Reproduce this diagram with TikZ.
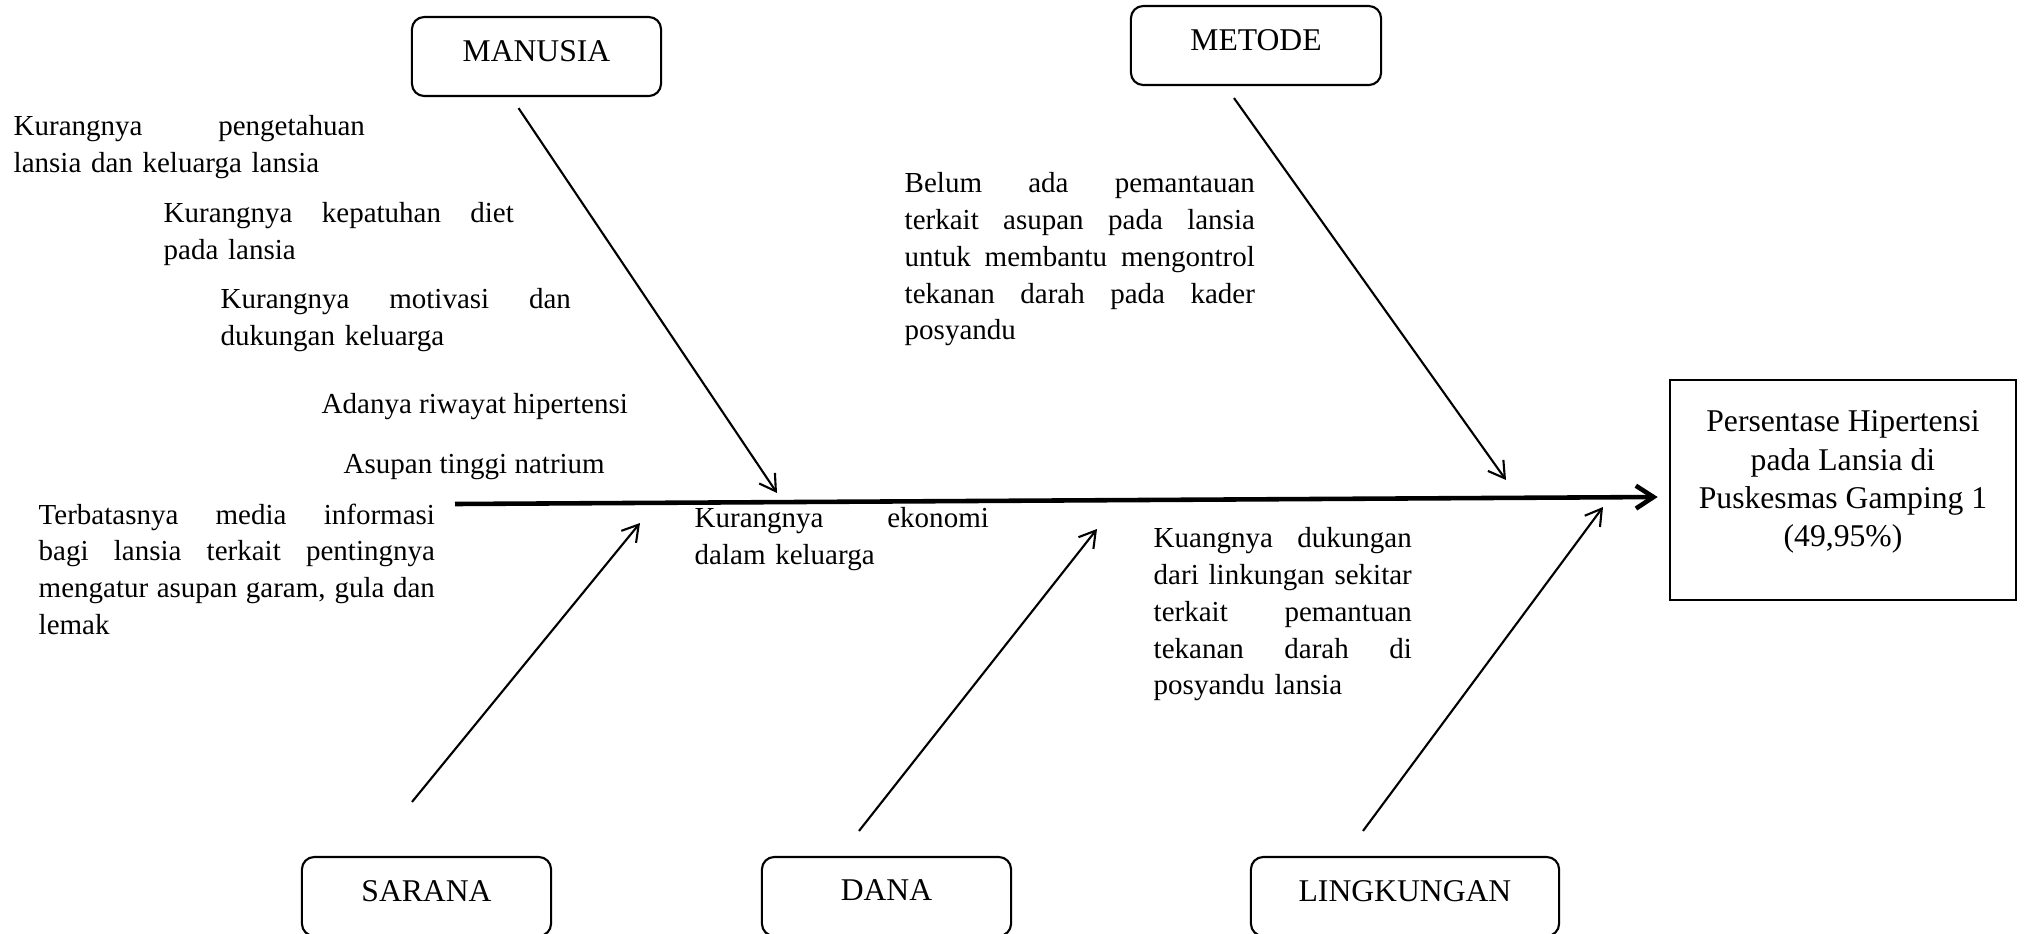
\documentclass[tikz,border=0pt]{standalone}
\usepackage{fontspec}
\setmainfont{Liberation Serif}
\usetikzlibrary{arrows.meta, calc}
\newlength{\causewd}
\newcommand{\jline}[1]{\makebox[\causewd][s]{\spaceskip=.25em plus 1fil\relax #1}}

\begin{document}
\begin{tikzpicture}[
    x=0.01cm, y=-0.01cm,
    every node/.style={font=\fontsize{8.25}{10.45}\selectfont},
    cat/.style={draw, line width=0.6pt, rounded corners=3.5pt,
                minimum width=2.49cm, minimum height=0.79cm,
                text depth=3.4pt, font=\fontsize{9}{11}\selectfont},
    cause/.style={anchor=north west, inner sep=0pt, align=left,
                  text width=#1, execute at begin node={\setlength{\causewd}{#1}}},
    bone/.style={line width=0.6pt, -{Straight Barb[length=4.5pt,width=5.4pt]}},
  ]
  \useasboundingbox (0,0) rectangle (2024,933);

  % categories
  \node[cat] (manusia) at (536.5,56.5) {MANUSIA};
  \node[cat, minimum width=2.5cm] (metode) at (1256,45.5) {METODE};
  \node[cat] (sarana) at (426.5,896.5) {SARANA};
  \node[cat] (dana) at (886.5,896.5) {DANA};
  \node[cat, minimum width=3.08cm] (lingkungan) at (1405,896.5) {LINGKUNGAN};

  % effect
  \node[draw, line width=0.7pt, minimum width=3.46cm, minimum height=2.2cm,
        align=center, font=\fontsize{9}{10.9}\selectfont] (hasil) at (1843,490)
    {Persentase Hipertensi\\ pada Lansia di\\ Puskesmas Gamping 1\\
     (49,95\%)\rule[-6.4pt]{0pt}{0pt}};

  % causes
  \node[cause=3.51cm] (pengetahuan) at (13,115)
    {\jline{Kurangnya pengetahuan}\\ lansia dan keluarga lansia};
  \node[cause=3.5cm] (diet) at (163,202)
    {\jline{Kurangnya kepatuhan diet}\\ pada lansia};
  \node[cause=3.5cm] (motivasi) at (220,288)
    {\jline{Kurangnya motivasi dan}\\ dukungan keluarga};
  \node[anchor=west, inner sep=0pt] (riwayat) at (321,407) {Adanya riwayat hipertensi};
  \node[anchor=west, inner sep=0pt] (natrium) at (343,467) {Asupan tinggi natrium};
  \node[cause=3.96cm] (media) at (38,503)
    {\jline{Terbatasnya media informasi}\\
     \jline{bagi lansia terkait pentingnya}\\
     \jline{mengatur asupan garam, gula dan}\\ lemak};
  \node[cause=2.94cm] (ekonomi) at (694,507)
    {\jline{Kurangnya ekonomi}\\ dalam keluarga};
  \node[cause=3.5cm] (pemantauan) at (904,172)
    {\jline{Belum ada pemantauan}\\
     \jline{terkait asupan pada lansia}\\
     \jline{untuk membantu mengontrol}\\
     \jline{tekanan darah pada kader}\\ posyandu};
  \node[cause=2.58cm] (sekitar) at (1153,527)
    {\jline{Kuangnya dukungan}\\
     \jline{dari linkungan sekitar}\\
     \jline{terkait pemantuan}\\
     \jline{tekanan darah di}\\ posyandu lansia};

  % spine and bones
  \coordinate (tail) at (455,504);
  \coordinate (tipM) at (777,493);
  \coordinate (tipT) at (1506,480);
  \coordinate (tipS) at (640,523);
  \coordinate (tipD) at (1097,529);
  \coordinate (tipL) at (1603,507);

  \draw[line width=1.3pt, -{Straight Barb[length=5pt,width=6.5pt]}]
    (tail) -- ($(hasil.west)+(-11,7)$);
  \draw[bone] ($(manusia.south)+(-18,11)$) -- (tipM);
  \draw[bone] ($(metode.south)+(-22,12)$) -- (tipT);
  \draw[bone] ($(sarana.north)+(-14.5,-54)$) -- (tipS);
  \draw[bone] ($(dana.north)+(-27.5,-25)$) -- (tipD);
  \draw[bone] ($(lingkungan.north)+(-42,-25)$) -- (tipL);
\end{tikzpicture}
\end{document}
